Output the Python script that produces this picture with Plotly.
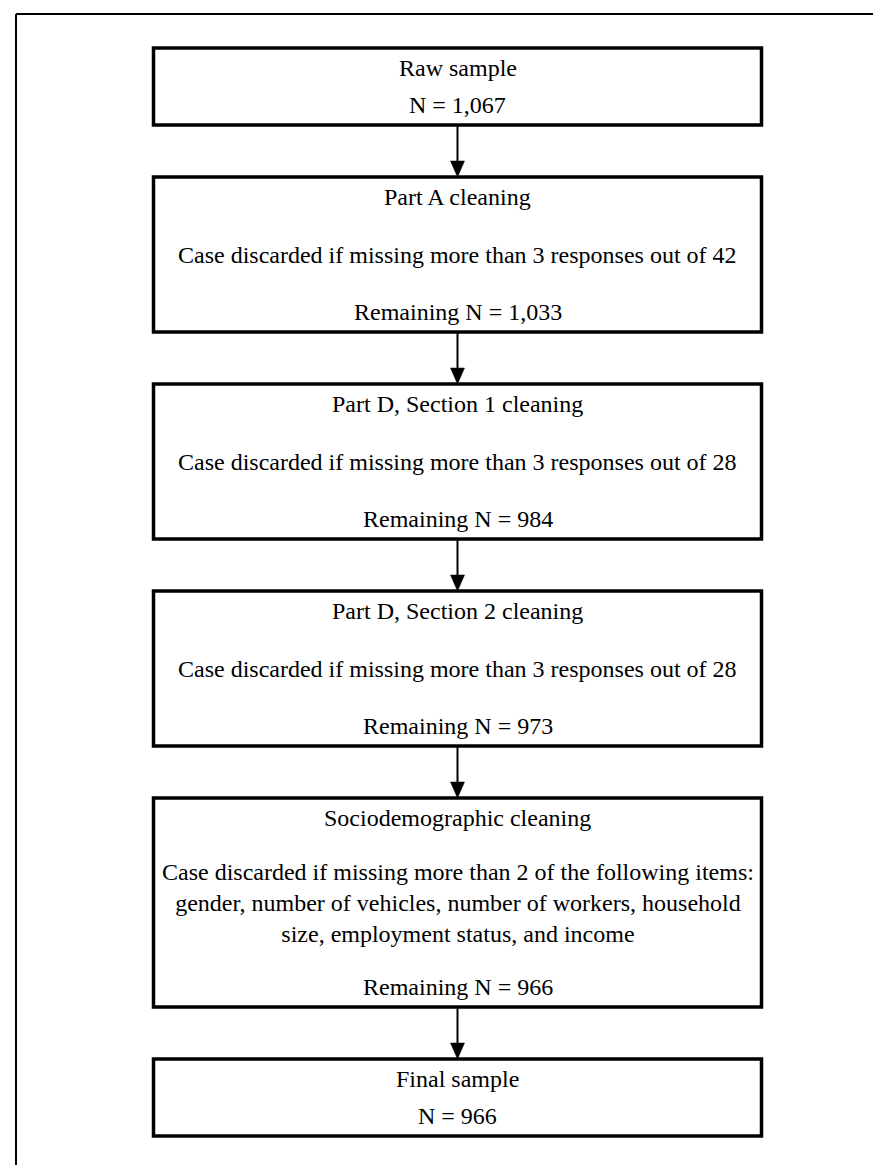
import plotly.graph_objects as go

# ---- data ----
stage_titles = [
    "Raw sample",
    "Part A cleaning",
    "Part D, Section 1 cleaning",
    "Part D, Section 2 cleaning",
    "Sociodemographic cleaning",
    "Final sample",
]
stage_rules = [
    None,
    "Case discarded if missing more than 3 responses out of 42",
    "Case discarded if missing more than 3 responses out of 28",
    "Case discarded if missing more than 3 responses out of 28",
    "Case discarded if missing more than 2 of the following items:<br>"
    "gender, number of vehicles, number of workers, household<br>"
    "size, employment status, and income",
    None,
]
stage_n_labels = [
    "N = 1,067",
    "Remaining N = 1,033",
    "Remaining N = 984",
    "Remaining N = 973",
    "Remaining N = 966",
    "N = 966",
]

# ---- layout (pixel space) ----
W, H = 881, 1165
box_left, box_right = 145.5, 753.5
box_tops = [40, 169, 376, 583, 790, 1051]
box_heights = [77, 155, 155, 155, 209, 77]
pad = 20
font_fam = "Liberation Serif, Times New Roman, serif"
fsize = 24
cx = (box_left + box_right) / 2

fig = go.Figure()
shapes = []
annotations = []

# outer frame (top and left)
shapes.append(dict(type="line", x0=8, y0=H + 5, x1=8, y1=6, line=dict(color="black", width=2)))
shapes.append(dict(type="line", x0=8, y0=6, x1=W + 5, y1=6, line=dict(color="black", width=2)))

for i, (title, rule, nlab) in enumerate(zip(stage_titles, stage_rules, stage_n_labels)):
    top = box_tops[i]
    bot = top + box_heights[i]
    shapes.append(dict(type="rect", x0=box_left, x1=box_right, y0=top, y1=bot,
                       line=dict(color="black", width=3.5), fillcolor="white", layer="below"))
    annotations.append(dict(x=cx, y=top + pad, text=title, showarrow=False,
                            xanchor="center", yanchor="middle",
                            font=dict(family=font_fam, size=fsize, color="black")))
    if rule:
        annotations.append(dict(x=cx, y=(top + bot) / 2, text=rule, showarrow=False,
                                xanchor="center", yanchor="middle", align="center",
                                font=dict(family=font_fam, size=fsize, color="black")))
    annotations.append(dict(x=cx, y=bot - pad, text=nlab, showarrow=False,
                            xanchor="center", yanchor="middle",
                            font=dict(family=font_fam, size=fsize, color="black")))
    if i < len(stage_titles) - 1:
        nxt = box_tops[i + 1]
        head_h, head_w = 16, 14
        shapes.append(dict(type="line", x0=cx, x1=cx, y0=bot, y1=nxt - head_h + 1,
                           line=dict(color="black", width=2)))
        shapes.append(dict(type="path",
                           path=f"M {cx - head_w/2} {nxt - head_h} L {cx + head_w/2} {nxt - head_h} L {cx} {nxt} Z",
                           fillcolor="black", line=dict(color="black", width=0.5)))

fig.update_layout(
    width=W, height=H,
    margin=dict(l=0, r=0, t=0, b=0),
    paper_bgcolor="white", plot_bgcolor="white",
    xaxis=dict(range=[0, W], visible=False, fixedrange=True),
    yaxis=dict(range=[H, 0], visible=False, fixedrange=True),
    shapes=shapes, annotations=annotations,
    showlegend=False,
)
fig.write_html("out.html", config={"displayModeBar": False})
